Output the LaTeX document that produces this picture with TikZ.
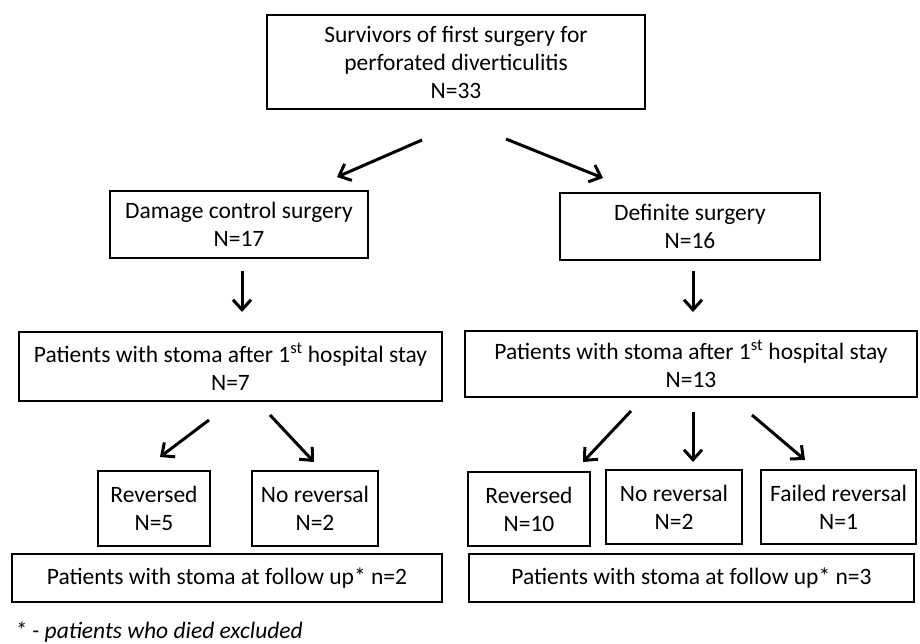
\documentclass[tikz,border=0pt]{standalone}
\usepackage{fontspec}
\setmainfont{Carlito}
\usetikzlibrary{arrows.meta}

\begin{document}
\begin{tikzpicture}[x=1pt,y=-1pt,
    arr/.style={line width=3pt,-{Straight Barb[length=10pt,width=18pt]}}]

      \useasboundingbox (0,0) rectangle (920,643);

      \begin{scope}[every node/.style={draw,line width=2.4pt,align=center,inner sep=0pt,
          font=\fontsize{23.5}{28}\selectfont}]
        \node[minimum width=378pt,minimum height=94pt] (surv)   at (456,62)    {Survivors of first surgery for\\perforated diverticulitis\\N=33};
        \node[minimum width=258pt,minimum height=67pt] (dcs)    at (239,224.5) {Damage control surgery\\N=17};
        \node[minimum width=260pt,minimum height=67pt] (defs)   at (690,226.5) {Definite surgery\\N=16};
        \node[minimum width=423pt,minimum height=69pt] (stomaL) at (230.5,366.5) {Patients with stoma after 1\textsuperscript{st} hospital stay\\N=7};
        \node[minimum width=452pt,minimum height=66pt] (stomaR) at (691,364)   {Patients with stoma after 1\textsuperscript{st} hospital stay\\N=13};
        \node[minimum width=112pt,minimum height=75pt] (revL)   at (154,508.5) {Reversed\\N=5};
        \node[minimum width=126pt,minimum height=75pt] (norevL) at (315,508.5) {No reversal\\N=2};
        \node[minimum width=122pt,minimum height=74pt] (revR)   at (529,509)   {Reversed\\N=10};
        \node[minimum width=136pt,minimum height=74pt] (norevR) at (674,507)   {No reversal\\N=2};
        \node[minimum width=155pt,minimum height=74pt] (failR)  at (838.5,507) {Failed reversal\\N=1};
        \node[minimum width=430pt,minimum height=48pt] (fuL)    at (227,578)   {Patients with stoma at follow up* n=2};
        \node[minimum width=445pt,minimum height=48pt] (fuR)    at (691.5,578) {Patients with stoma at follow up* n=3};
      \end{scope}

      \node[anchor=west,inner sep=0pt,font=\fontsize{23.5}{28}\selectfont\itshape] (note) at (15,632) {* - patients who died excluded};

      \coordinate (a1s) at (422,140);  \coordinate (a1e) at (337,177);
      \coordinate (a2s) at (506,139);  \coordinate (a2e) at (603,178);
      \coordinate (a3s) at (242,271);  \coordinate (a3e) at (242,312);
      \coordinate (a4s) at (693,271);  \coordinate (a4e) at (693,312);
      \coordinate (a5s) at (209,420);  \coordinate (a5e) at (160,457);
      \coordinate (a6s) at (270,415);  \coordinate (a6e) at (314,462);
      \coordinate (a7s) at (631,411);  \coordinate (a7e) at (583,462);
      \coordinate (a8s) at (693,412);  \coordinate (a8e) at (693,462);
      \coordinate (a9s) at (752,415);  \coordinate (a9e) at (805,460);

      \draw[arr] (a1s) -- (a1e);
      \draw[arr] (a2s) -- (a2e);
      \draw[arr] (a3s) -- (a3e);
      \draw[arr] (a4s) -- (a4e);
      \draw[arr] (a5s) -- (a5e);
      \draw[arr] (a6s) -- (a6e);
      \draw[arr] (a7s) -- (a7e);
      \draw[arr] (a8s) -- (a8e);
      \draw[arr] (a9s) -- (a9e);

    \end{tikzpicture}
\end{document}
